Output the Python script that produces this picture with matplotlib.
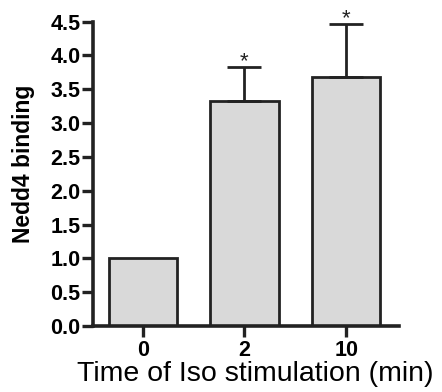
import matplotlib
matplotlib.use("Agg")
import matplotlib.pyplot as plt

categories = ["0", "2", "10"]
values = [1.0, 3.32, 3.68]
errors = [0.0, 0.51, 0.79]
stars = ["", "*", "*"]
yticks = [0.0, 0.5, 1.0, 1.5, 2.0, 2.5, 3.0, 3.5, 4.0, 4.5]

plt.rcParams['font.family'] = ['Liberation Sans', 'DejaVu Sans']

fig = plt.figure(figsize=(4.42, 3.92), dpi=100)
ax = fig.add_axes([0.210, 0.168, 0.693, 0.777])

x = list(range(len(categories)))
ec = '#222222'
ax.bar(x, values, width=0.67, color='#d9d9d9', edgecolor=ec, linewidth=2.0, zorder=2)
for xi, v, e in zip(x, values, errors):
    if e > 0:
        ax.errorbar(xi, v, yerr=[[0], [e]], fmt='none', ecolor=ec, elinewidth=2.0,
                    capsize=12, capthick=2.0, zorder=3)
for xi, v, e, s in zip(x, values, errors, stars):
    if s:
        ax.text(xi, v + e - 0.08, s, ha='center', va='bottom', fontsize=16, color=ec)

ax.set_xlim(-0.49, 2.52)
ax.set_ylim(0, 4.5)
ax.set_yticks(yticks)
ax.set_yticklabels([f"{t:.1f}" for t in yticks], fontweight='bold', fontsize=15.5)
ax.set_xticks(x)
ax.set_xticklabels(categories, fontweight='bold', fontsize=15.5)
ax.tick_params(axis='both', direction='out', length=8, width=2.4, color=ec)
ax.tick_params(axis='y', pad=1)
ax.tick_params(axis='x', pad=2)
for side in ['top', 'right']:
    ax.spines[side].set_visible(False)
for side in ['left', 'bottom']:
    ax.spines[side].set_linewidth(2.6)
    ax.spines[side].set_color(ec)
ax.set_ylabel("Nedd4 binding", fontweight='bold', fontsize=16.5)
ax.yaxis.set_label_coords(-0.19, 0.532)
ax.set_xlabel("Time of Iso stimulation (min)", fontsize=20.5)
ax.xaxis.set_label_coords(0.53, -0.116)

fig.savefig("out.png", dpi=100)
